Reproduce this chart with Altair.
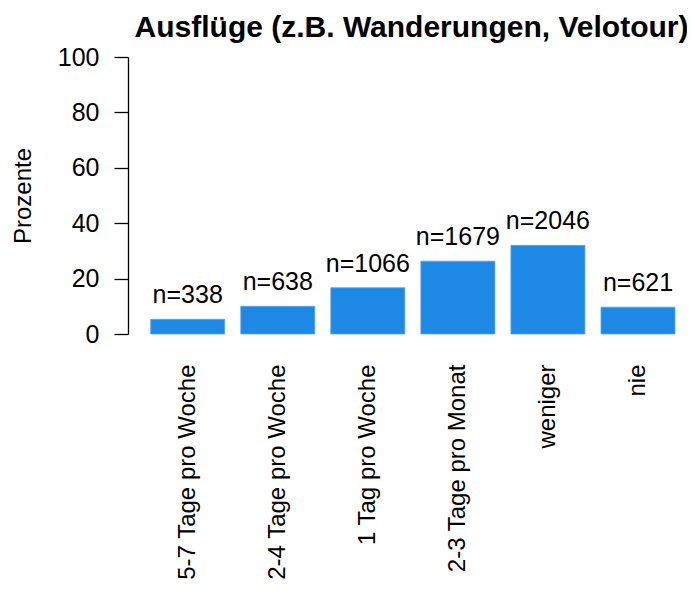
import altair as alt
import pandas as pd

categories = ["5-7 Tage pro Woche", "2-4 Tage pro Woche", "1 Tag pro Woche",
              "2-3 Tage pro Monat", "weniger", "nie"]
percent = [5.3, 10.0, 16.7, 26.3, 32.0, 9.7]
counts = [338, 638, 1066, 1679, 2046, 621]
y_ticks = [0, 20, 40, 60, 80, 100]

df = pd.DataFrame({
    "cat": categories,
    "pct": percent,
    "label": [f"n={c}" for c in counts],
})

FONT = "Liberation Sans"

x = alt.X("cat:N", sort=categories, title=None,
          scale=alt.Scale(range=[22.7, 547], paddingInner=0.178, paddingOuter=0),
          axis=alt.Axis(labelAngle=270, labelFontSize=24, labelFont=FONT, labelColor="black",
                        domain=False, ticks=False, tickSize=0, labelPadding=30,
                        labelLimit=400))
y = alt.Y("pct:Q", title="Prozente",
          scale=alt.Scale(domain=[0, 100], nice=False),
          axis=alt.Axis(values=y_ticks, grid=False, domainColor="black", tickColor="black",
                        domainWidth=1.3, tickWidth=1.3, tickSize=14,
                        labelFontSize=25, labelFont=FONT, labelColor="black", labelPadding=15,
                        titleFontSize=24, titleFont=FONT, titleColor="black",
                        titleFontWeight="normal", titlePadding=22))

bars = alt.Chart(df).mark_bar(color="#1E88E5", stroke="#5AA6EC", strokeWidth=0.8).encode(x=x, y=y)
text = alt.Chart(df).mark_text(baseline="alphabetic", dy=-16, fontSize=25, font=FONT,
                               color="black").encode(x=x, y=y, text="label:N")

chart = (bars + text).properties(
    width=559, height=277,
    title=alt.TitleParams("Ausflüge (z.B. Wanderungen, Velotour)", fontSize=30, font=FONT,
                          fontWeight="bold", color="black", anchor="middle", offset=2, dx=4),
    autosize=alt.AutoSizeParams(type="none"),
    padding={"left": 120, "top": 49, "right": 0, "bottom": 252},
).configure_view(stroke=None)

chart.save("out.html", embed_options={"renderer": "svg", "actions": False})
